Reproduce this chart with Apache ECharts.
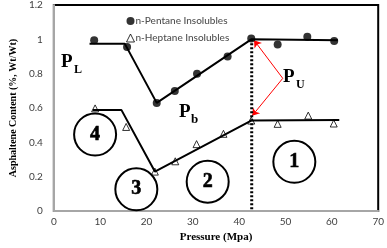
<!DOCTYPE html>
<html>
<head>
<meta charset="utf-8">
<script src="https://cdn.jsdelivr.net/npm/echarts@6/dist/echarts.min.js"></script>
<style>
html, body { margin: 0; padding: 0; background: #fff; }
#main { width: 387px; height: 248px; }
</style>
</head>
<body>
<div id="main"></div>
<script>
// measured points
var pentanePts = [[8.7, 0.995], [15.8, 0.955], [22.2, 0.63], [26.1, 0.70], [30.9, 0.80],
	[37.5, 0.90], [42.6, 1.005], [48.3, 0.97], [54.7, 1.015], [60.5, 0.99]];
var heptanePts = [[8.9, 0.598], [15.6, 0.49], [21.8, 0.23], [26.2, 0.29], [30.8, 0.39],
	[36.6, 0.45], [42.6, 0.527], [48.3, 0.508], [54.9, 0.556], [60.4, 0.51]];
// trend lines drawn over the points
var pentaneTrend = [[7.7, 0.975], [15.3, 0.975], [22.2, 0.63], [42.6, 1.0], [61.3, 0.995]];
var heptaneTrend = [[8.4, 0.588], [14.6, 0.588], [21.8, 0.23], [42.6, 0.527], [61.6, 0.53]];
var puLine = [[42.7, 1.0], [42.7, 0]];
// red arrows from the P_U label
var arrows = [
	[[49.4, 0.773], [43.2, 0.995]],
	[[49.4, 0.773], [42.8, 0.555]]
];
// region circles
var regions = [
	{ name: '4', value: [8.9, 0.446] },
	{ name: '3', value: [17.8, 0.127] },
	{ name: '2', value: [33.2, 0.171] },
	{ name: '1', value: [51.9, 0.287] }
];

var serif = '"Liberation Serif", "DejaVu Serif", serif';
var sans = 'Lato, "Open Sans", sans-serif';

var chart = echarts.init(document.getElementById('main'));

var option = {
	animation: false,
	grid: {
		left: 36, right: 5, top: 5, bottom: 35,
		show: true,
		borderColor: '#000',
		borderWidth: 2
	},
	legend: {
		orient: 'vertical',
		left: 121, top: 11,
		itemWidth: 8, itemHeight: 8,
		itemGap: 7,
		textStyle: { fontFamily: sans, fontSize: 10, fontWeight: 500, color: '#505050', padding: [0, 0, 0, -4] },
		data: [
			{ name: 'n-Pentane Insolubles', icon: 'circle',
				itemStyle: { color: '#000', borderWidth: 0 } },
			{ name: 'n-Heptane Insolubles', icon: 'triangle',
				itemStyle: { color: '#fff', borderColor: '#000', borderWidth: 1 } }
		]
	},
	xAxis: {
		type: 'value',
		min: 0, max: 70, interval: 10,
		name: 'Pressure (Mpa)',
		nameLocation: 'middle',
		nameGap: 19,
		nameTextStyle: { fontFamily: serif, fontWeight: 'bold', fontSize: 11, color: '#000' },
		axisLine: { show: true, lineStyle: { color: '#a6a6a6', width: 2 } },
		axisTick: { show: false },
		splitLine: { show: false },
		axisLabel: { margin: 6, fontFamily: sans, fontSize: 10, color: '#404040' }
	},
	yAxis: {
		type: 'value',
		min: 0, max: 1.2, interval: 0.2,
		name: 'Asphaltene Content (%, Wt/Wt)',
		nameLocation: 'middle',
		nameGap: 26,
		nameTextStyle: { fontFamily: serif, fontWeight: 'bold', fontSize: 10, color: '#000' },
		axisLine: { show: true, lineStyle: { color: '#a6a6a6', width: 2 } },
		axisTick: { show: false },
		splitLine: { show: false },
		axisLabel: { margin: 11, fontFamily: sans, fontSize: 10, color: '#404040' }
	},
	series: [
		{
			type: 'line', data: puLine, symbol: 'none', silent: true,
			lineStyle: { color: '#000', width: 3, type: [2, 2] }
		},
		{
			type: 'line', data: pentaneTrend, symbol: 'none', silent: true,
			lineStyle: { color: '#000', width: 2 }
		},
		{
			type: 'line', data: heptaneTrend, symbol: 'none', silent: true,
			lineStyle: { color: '#000', width: 2 }
		},
		{
			name: 'n-Pentane Insolubles', type: 'scatter', data: pentanePts,
			symbol: 'circle', symbolSize: 8,
			itemStyle: { color: '#000' }
		},
		{
			name: 'n-Heptane Insolubles', type: 'scatter', data: heptanePts,
			symbol: 'triangle', symbolSize: 7,
			itemStyle: { color: '#fff', borderColor: '#000', borderWidth: 1 }
		},
		{
			type: 'lines', coordinateSystem: 'cartesian2d', silent: true,
			symbol: ['none', 'arrow'], symbolSize: 7,
			lineStyle: { color: '#ff0000', width: 1, opacity: 1 },
			data: arrows.map(function (a) { return { coords: a }; })
		},
		{
			type: 'scatter', data: regions, silent: true,
			symbol: 'circle', symbolSize: 42,
			itemStyle: { color: 'transparent', borderColor: '#000', borderWidth: 2, opacity: 1 },
			label: {
				show: true, position: 'inside',
				formatter: '{b}',
				fontFamily: serif, fontWeight: 'bold', fontSize: 20, color: '#000',
				textBorderColor: '#000', textBorderWidth: 0.6
			}
		}
	],
	graphic: [
		{ type: 'text', left: 61, top: 53, style: { text: 'P', font: 'bold 19px ' + serif, fill: '#000' } },
		{ type: 'text', left: 74, top: 64, style: { text: 'L', font: 'bold 12px ' + serif, fill: '#000' } },
		{ type: 'text', left: 179, top: 103, style: { text: 'P', font: 'bold 19px ' + serif, fill: '#000' } },
		{ type: 'text', left: 191, top: 113, style: { text: 'b', font: 'bold 13px ' + serif, fill: '#000' } },
		{ type: 'text', left: 283, top: 68, style: { text: 'P', font: 'bold 19px ' + serif, fill: '#000' } },
		{ type: 'text', left: 296, top: 79, style: { text: 'U', font: 'bold 12px ' + serif, fill: '#000' } }
	]
};

chart.setOption(option);
</script>
</body>
</html>
